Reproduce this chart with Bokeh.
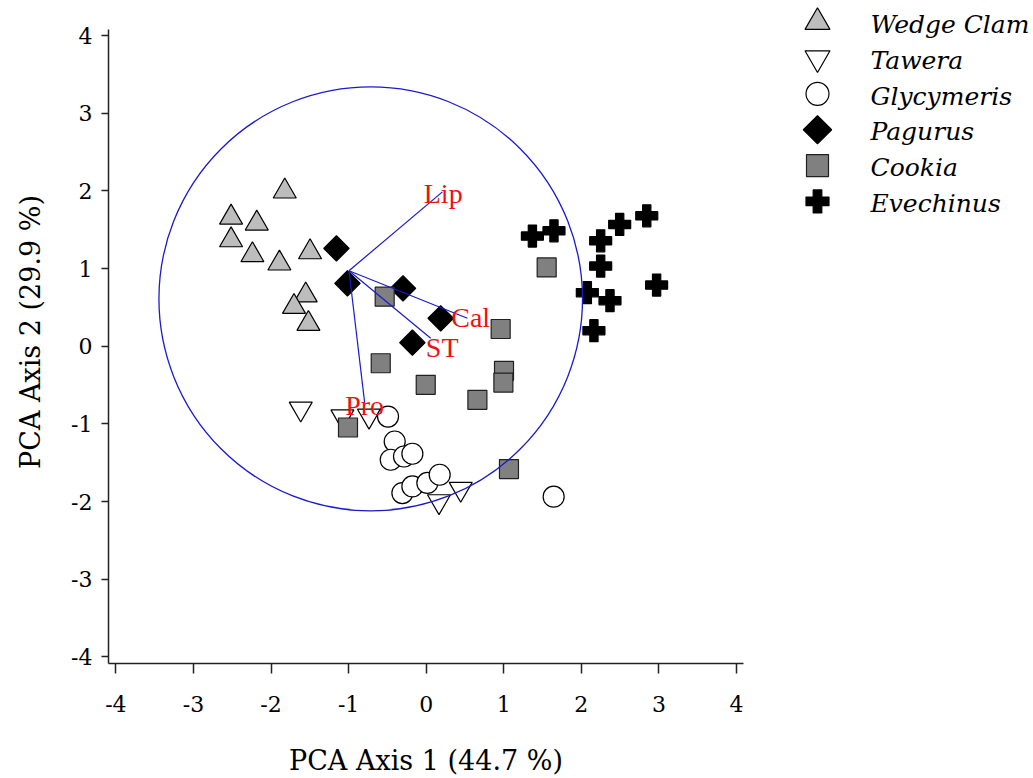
import numpy as np
from bokeh.plotting import figure
from bokeh.models import Range1d, FixedTicker
from bokeh.layouts import row
from bokeh.embed import file_html
from bokeh.resources import INLINE
from bokeh.core.properties import value

# ---------------- data ----------------
wedge_x = [-1.823, -2.515, -2.184, -2.515, -2.240, -1.497, -1.892, -1.553, -1.704, -1.518]
wedge_y = [1.994, 1.658, 1.581, 1.366, 1.174, 1.212, 1.067, 0.656, 0.509, 0.290]

tawera_x = [-1.617, -1.080, -0.737, 0.165, 0.445]
tawera_y = [-0.805, -0.905, -0.896, -1.997, -1.838]

glyc_x = [-0.492, -0.406, -0.457, -0.286, -0.178, -0.307, -0.178, 0.015, 0.174, 1.643]
glyc_y = [-0.905, -1.226, -1.461, -1.419, -1.384, -1.890, -1.805, -1.760, -1.654, -1.937]

pagurus_x = [-1.157, -1.015, -0.299, 0.187, -0.178]
pagurus_y = [1.260, 0.810, 0.745, 0.360, 0.046]

cookia_x = [-0.535, 0.960, -0.586, 1.003, 0.995, -0.006, 0.660, -1.008, 1.067, 1.553]
cookia_y = [0.638, 0.222, -0.219, -0.317, -0.468, -0.497, -0.690, -1.046, -1.581, 1.015]

evech_x = [1.369, 1.647, 2.249, 2.494, 2.843, 2.249, 2.077, 2.369, 2.970, 2.162]
evech_y = [1.418, 1.486, 1.357, 1.568, 1.679, 1.032, 0.689, 0.586, 0.788, 0.200]

# loading vectors (biplot arrows)
load_names = ["Lip", "Cal", "ST", "Pro"]
load_origin_x = -0.995
load_origin_y = 0.972
load_x = [0.209, 0.531, 0.058, -0.793]
load_y = [1.987, 0.360, 0.103, -0.729]
label_x = [0.219, 0.573, 0.206, -0.793]
label_y = [1.970, 0.364, -0.015, -0.765]

# correlation circle
circle_cx = -0.715
circle_cy = 0.610
circle_r = 2.73

tick_vals = [-4, -3, -2, -1, 0, 1, 2, 3, 4]
tick_labels = ["-4", "-3", "-2", "-1", "0", "1", "2", "3", "4"]

species = ["Wedge Clam", "Tawera", "Glycymeris", "Pagurus", "Cookia", "Evechinus"]

x_title = "PCA Axis 1 (44.7 %)"
y_title = "PCA Axis 2 (29.9 %)"

# ---------------- styles ----------------
SERIF = "DejaVu Serif"
BLUE = "#1a1ad0"

styles = [
    dict(marker="triangle", fill_color="#bdbdbd", line_color="black", size=23, angle=0.0),
    dict(marker="inverted_triangle", fill_color="white", line_color="black", size=23, angle=0.0),
    dict(marker="circle", fill_color="white", line_color="black", size=21, angle=0.0),
    dict(marker="square", fill_color="black", line_color="black", size=18, angle=np.pi / 4),
    dict(marker="square", fill_color="#808080", line_color="#202020", size=19, angle=0.0),
    dict(marker="plus", fill_color="black", line_color="black", size=22, angle=0.0),
]
series = [(wedge_x, wedge_y), (tawera_x, tawera_y), (glyc_x, glyc_y),
          (pagurus_x, pagurus_y), (cookia_x, cookia_y), (evech_x, evech_y)]

# axis extents (data units) and the extra headroom above the y axis
X_LO, X_HI = -4.095, 4.09
Y_LO, Y_HI = -4.084, 4.078
Y_TOP = Y_HI + 29 / 77.8

FIG_H = 778
BOTTOM = 114

# ---------------- main plot ----------------
p = figure(width=760, height=FIG_H,
           x_range=Range1d(X_LO, X_HI), y_range=Range1d(Y_LO, Y_TOP),
           output_backend="svg", toolbar_location=None,
           min_border_left=108, min_border_top=0, min_border_right=17,
           min_border_bottom=BOTTOM)
p.outline_line_color = None
p.grid.visible = False
p.background_fill_color = "white"
p.border_fill_color = "white"

for (xs, ys), st in zip(series, styles):
    p.scatter(x=xs, y=ys, marker=st["marker"], size=st["size"], angle=st["angle"],
              fill_color=st["fill_color"], line_color=st["line_color"], line_width=1.2)

p.ellipse(x=[circle_cx], y=[circle_cy], width=[2 * circle_r], height=[2 * circle_r],
          fill_color=None, line_color=BLUE, line_width=1.3)
p.segment(x0=[load_origin_x] * len(load_x), y0=[load_origin_y] * len(load_y),
          x1=load_x, y1=load_y, line_color=BLUE, line_width=1.2)
p.text(x=label_x, y=label_y, text=load_names, text_color="#ee1111",
       text_font=value("Liberation Serif"), text_font_size="28px",
       text_align="center", text_baseline="middle")

for ax in (p.xaxis[0], p.yaxis[0]):
    ax.ticker = FixedTicker(ticks=tick_vals)
    ax.major_label_overrides = {v: s for v, s in zip(tick_vals, tick_labels)}
    ax.major_tick_in = 0
    ax.minor_tick_in = 0
    ax.minor_tick_out = 0
    ax.axis_line_color = "#222222"
    ax.axis_line_width = 1.5
    ax.major_tick_line_color = "#222222"
    ax.major_tick_line_width = 1.5
    ax.major_label_text_font = SERIF
    ax.major_label_text_font_size = "22px"
    ax.major_label_text_color = "black"
    ax.axis_label_text_font = SERIF
    ax.axis_label_text_font_size = "27px"
    ax.axis_label_text_font_style = "normal"
    ax.axis_label_text_color = "black"

p.yaxis.bounds = (Y_LO, Y_HI)
p.xaxis.major_tick_out = 10
p.yaxis.major_tick_out = 7
p.xaxis.major_label_standoff = 22
p.yaxis.major_label_standoff = 9
p.xaxis.axis_label = x_title
p.yaxis.axis_label = y_title
p.xaxis.axis_label_standoff = 30
p.yaxis.axis_label_standoff = 22

# ---------------- legend panel ----------------
LEG_W = 273
unit_x = 53.0
row_h = 35.9
frame_h = FIG_H - BOTTOM
leg = figure(width=LEG_W, height=FIG_H,
             x_range=Range1d(-57 / unit_x, (LEG_W - 57) / unit_x),
             y_range=Range1d((frame_h - 21.7) / row_h, -21.7 / row_h),
             output_backend="svg", toolbar_location=None,
             min_border_left=0, min_border_right=0, min_border_top=0,
             min_border_bottom=BOTTOM,
             x_axis_location=None, y_axis_location=None)
leg.outline_line_color = None
leg.grid.visible = False

leg_sizes = [25, 25, 23, 20, 22, 23]
rows = list(range(len(species)))
for i, st in enumerate(styles):
    leg.scatter(x=[0], y=[rows[i]], marker=st["marker"], size=leg_sizes[i], angle=st["angle"],
                fill_color=st["fill_color"], line_color=st["line_color"], line_width=1.2)
leg.text(x=[1] * len(species), y=[r + 0.06 for r in rows], text=species,
         text_font=value(SERIF), text_font_style="italic", text_font_size="25px",
         text_color="black", text_align="left", text_baseline="middle")

layout = row(p, leg)
open("out.html", "w").write(file_html(layout, INLINE))
